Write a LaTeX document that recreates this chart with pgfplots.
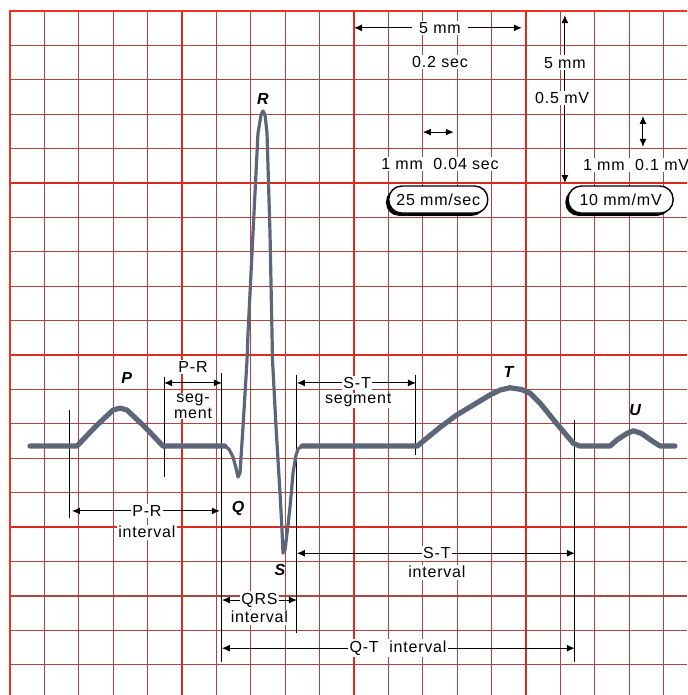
\documentclass[border=0pt]{standalone}
\usepackage{pgfplots}
\pgfplotsset{compat=1.18}
\usepackage{fontspec}
\setmainfont{Liberation Sans}
\newfontfamily\lblfont[LetterSpace=5]{Liberation Sans}
\usetikzlibrary{arrows.meta,shadows}

\definecolor{minorgrid}{HTML}{A8463F}
\definecolor{majorgrid}{HTML}{DE2A1E}
\definecolor{border}{HTML}{EE3322}
\definecolor{trace}{HTML}{5C6678}

\begin{document}
\begin{tikzpicture}[
  lbl/.style={font=\lblfont\fontsize{8}{8}\selectfont, fill=white, inner sep=0.8pt, align=center},
  wave/.style={font=\fontsize{8}{8}\selectfont\bfseries\itshape, inner sep=0pt},
  dim/.style={line width=0.5pt, {Latex[length=4pt,width=3.5pt]}-{Latex[length=4pt,width=3.5pt]}},
  guide/.style={line width=0.5pt},
  pill/.style={font=\lblfont\fontsize{8}{8}\selectfont, draw, line width=0.7pt, fill=white,
    rounded corners=6.5pt, minimum height=13.5pt, inner sep=1pt,
    drop shadow={shadow xshift=-1.4pt, shadow yshift=-1.4pt, fill=black, opacity=1}},
]
\begin{axis}[
  scale only axis, width=338.5pt, height=342pt,
  xmin=0, xmax=19.68, ymin=0.12, ymax=20,
  xtick={0,5,10,15}, ytick={5,10,15},
  minor xtick={1,2,3,4,6,7,8,9,11,12,13,14,16,17,18,19},
  minor ytick={1,2,3,4,6,7,8,9,11,12,13,14,16,17,18,19},
  grid=both,
  major grid style={majorgrid, line width=1pt},
  minor grid style={minorgrid, line width=0.6pt},
  xticklabels={}, yticklabels={},
  major tick length=0pt, minor tick length=0pt,
  axis line style={draw=none},
  clip=false,
]
\coordinate (ecg-sw) at (rel axis cs:0,0);
\coordinate (ecg-ne) at (rel axis cs:1,1);
\draw[border, line width=1.3pt] (rel axis cs:0,0) -- (rel axis cs:0,1) -- (rel axis cs:1,1);

% guide lines
\draw[guide] (axis cs:4.48,9.36) -- (axis cs:4.48,6.45);
\draw[guide] (axis cs:6.16,9.48) -- (axis cs:6.16,1.08);
\draw[guide] (axis cs:1.744,8.40) -- (axis cs:1.744,5.26);
\draw[guide] (axis cs:8.34,9.42) -- (axis cs:8.34,1.92);
\draw[guide] (axis cs:11.80,9.42) -- (axis cs:11.80,7.09);
\draw[guide] (axis cs:16.42,8.11) -- (axis cs:16.42,1.08);

% dimension arrows
\draw[dim] (axis cs:4.48,9.19) -- (axis cs:6.16,9.19);
\draw[dim] (axis cs:8.34,9.19) -- (axis cs:11.80,9.19);
\draw[dim] (axis cs:1.80,5.47) -- (axis cs:6.10,5.47);
\draw[dim] (axis cs:6.16,2.88) -- (axis cs:8.34,2.88);
\draw[dim] (axis cs:8.34,4.24) -- (axis cs:16.42,4.24);
\draw[dim] (axis cs:6.16,1.48) -- (axis cs:16.42,1.48);
\draw[dim] (axis cs:10,19.51) -- (axis cs:14.88,19.51);
\draw[dim] (axis cs:12,16.48) -- (axis cs:12.9,16.48);
\draw[dim] (axis cs:16.13,19.88) -- (axis cs:16.13,15.0);
\draw[dim] (axis cs:18.4,16.95) -- (axis cs:18.4,16.05);

% ECG trace
\addplot[trace, line width=2.6pt, line join=round, line cap=round] coordinates {
  (0.58,7.355) (1.948,7.355) (2.471,7.907) (2.994,8.401) (3.198,8.459)
  (3.401,8.401) (3.924,7.907) (4.448,7.355) (6.25,7.355)
};
\addplot[trace, line width=1.6pt, line join=round, line cap=round] coordinates {
  (6.25,7.355) (6.366,7.267) (6.483,7.035) (6.570,6.715) (6.628,6.453)
  (6.686,6.570) (6.773,7.907) (6.890,9.855) (6.919,10.640) (7.064,13.547)
  (7.209,16.453) (7.297,16.977) (7.355,17.093) (7.413,16.977) (7.471,16.453)
  (7.558,13.547) (7.616,10.640) (7.631,9.855) (7.733,7.907) (7.849,5.988)
  (7.907,4.913) (7.936,4.244) (7.994,4.331) (8.081,5.058) (8.140,5.581)
  (8.227,6.570) (8.314,7.093) (8.372,7.267) (8.488,7.355)
};
\addplot[trace, line width=2.6pt, line join=round, line cap=round] coordinates {
  (8.488,7.355) (11.84,7.355) (12.50,7.90) (12.99,8.26) (13.47,8.55)
  (13.95,8.84) (14.24,8.98) (14.53,9.05) (14.87,9.00) (15.12,8.89)
  (15.41,8.60) (15.89,8.01) (16.38,7.43) (16.57,7.355) (17.44,7.355)
  (17.64,7.53) (17.93,7.72) (18.12,7.80) (18.36,7.72) (18.70,7.48)
  (18.90,7.355) (19.33,7.355)
};

% wave letters
\node[wave] at (axis cs:7.35,17.44) {R};
\node[wave] at (axis cs:3.39,9.33) {P};
\node[wave] at (axis cs:6.63,5.55) {Q};
\node[wave] at (axis cs:7.85,3.75) {S};
\node[wave] at (axis cs:14.49,9.51) {T};
\node[wave] at (axis cs:18.17,8.40) {U};

% text labels
\node[lbl] at (axis cs:5.32,9.65) {P-R};
\node[lbl, inner sep=0.3pt] at (axis cs:5.32,8.52) {seg-\\ment};
\node[lbl] at (axis cs:10.09,9.19) {S-T};
\node[lbl, inner sep=0.3pt] at (axis cs:10.12,8.69) {segment};
\node[lbl] at (axis cs:3.98,5.47) {P-R};
\node[lbl] at (axis cs:3.98,4.85) {interval};
\node[lbl] at (axis cs:7.25,2.88) {QRS};
\node[lbl] at (axis cs:7.25,2.38) {interval};
\node[lbl] at (axis cs:12.41,4.24) {S-T};
\node[lbl] at (axis cs:12.41,3.69) {interval};
\node[lbl] at (axis cs:11.28,1.48) {Q-T\ \ interval};
\node[lbl] at (axis cs:12.5,19.51) {\ 5 mm\ };
\node[lbl] at (axis cs:12.5,18.52) {0.2 sec};
\node[lbl] at (axis cs:12.5,15.55) {1 mm\ \ 0.04 sec};
\node[lbl] at (axis cs:16.13,18.5) {5 mm};
\node[lbl] at (axis cs:16.05,17.47) {0.5 mV};
\node[lbl] at (axis cs:18.2,15.52) {1 mm\ \ 0.1 mV};
\node[pill, minimum width=49.5pt] at (axis cs:12.45,14.52) {25 mm/sec};
\node[pill, minimum width=52.5pt] at (axis cs:17.75,14.52) {10 mm/mV};
\end{axis}
\pgfresetboundingbox
\path ([xshift=-5pt]ecg-sw) rectangle ([yshift=5.5pt]ecg-ne);
\end{tikzpicture}
\end{document}
